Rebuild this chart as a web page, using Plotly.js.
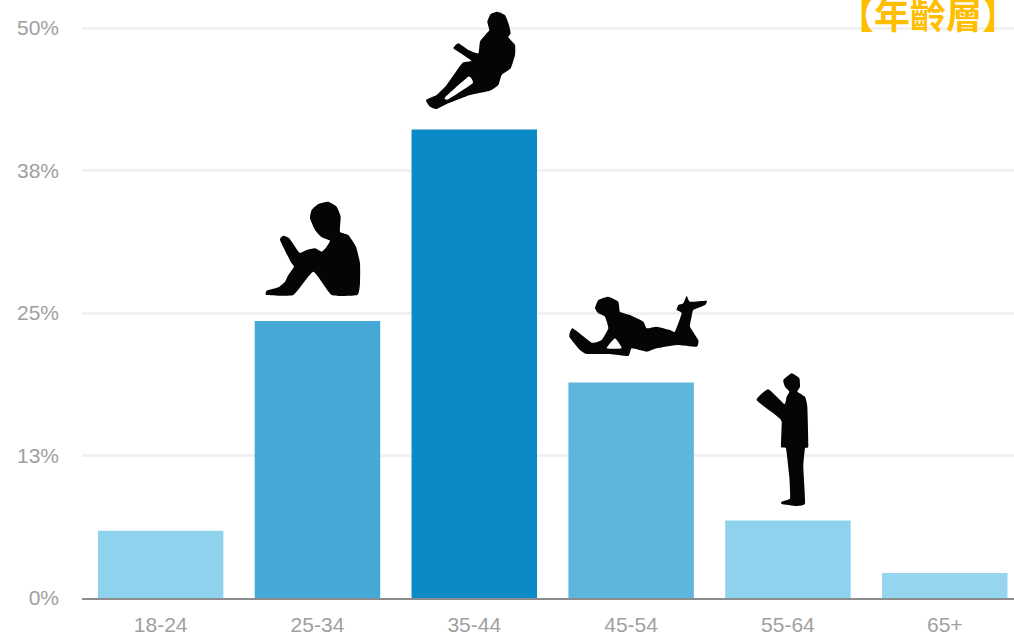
<!DOCTYPE html>
<html>
<head>
<meta charset="utf-8">
<script src="https://cdn.plot.ly/plotly-3.0.1.min.js"></script>
<style>html,body{margin:0;padding:0;background:#fff;overflow:hidden}#chart{width:1014px;height:636px}</style>
</head>
<body>
<div id="chart"></div>
<script>
const ageGroups = ['18-24','25-34','35-44','45-54','55-64','65+'];
const shares = [5.9,24.3,41.1,18.9,6.8,2.2];
const barColors = ['#8FD2EE','#45A9D8','#0A8AC6','#5EB5DE','#8FD2EE','#95D5F0'];
const yTickValues = [0,12.5,25,37.5,50];
const yTickLabels = ['0%','13%','25%','38%','50%'];
const chartTitle = '【年齡層】';

const W = 1014, H = 636, L = 82, T = 0, B = 38;
const plotW = W - L, plotH = H - T - B;
const px = x => (x - L) / plotW;
const py = y => (H - B - y) / plotH;

// decorative silhouettes traced in zoom-crop coordinates (origin ox,oy at 3x), lightly rounded
function sil(ox, oy, rings, k) {
  return rings.map(r => {
    const pts = r.map(p => [px(ox + p[0] / 3), py(oy + p[1] / 3)]);
    const n = pts.length, f = v => v.toFixed(5);
    let d = 'M' + f(pts[0][0]) + ',' + f(pts[0][1]);
    for (let i = 0; i < n; i++) {
      const a = pts[(i - 1 + n) % n], b = pts[i], c = pts[(i + 1) % n], e = pts[(i + 2) % n];
      d += ' C' + f(b[0] + (c[0] - a[0]) * k) + ',' + f(b[1] + (c[1] - a[1]) * k) + ' ' +
           f(c[0] - (e[0] - b[0]) * k) + ',' + f(c[1] - (e[1] - b[1]) * k) + ' ' + f(c[0]) + ',' + f(c[1]);
    }
    return d + ' Z';
  }).join(' ');
}
const womanReclining = [[[742,35],[765,45],[777,75],[782,100],[775,112],[795,135],[795,165],[782,205],[755,225],[745,255],[720,272],[660,285],[590,312],[560,327],[540,320],[528,300],[560,285],[590,255],[625,205],[640,187],[665,183],[640,165],[610,145],[625,130],[655,150],[685,160],[690,125],[710,100],[718,90],[712,65],[722,42]],
  [[655,230],[585,292],[595,298],[668,250]]];
const boySitting = [[[50,885],[50,872],[85,862],[105,845],[115,825],[132,800],[122,785],[90,720],[100,707],[118,715],[148,758],[170,750],[195,745],[215,755],[230,740],[240,722],[215,712],[195,690],[180,655],[185,630],[205,612],[235,605],[260,620],[272,650],[270,695],[295,705],[318,740],[330,790],[330,850],[322,885],[245,885],[190,815],[130,885]]];
const personLying = [[[175,50],[205,65],[210,95],[240,105],[280,125],[290,145],[320,140],[360,150],[375,155],[395,100],[380,90],[385,75],[400,70],[410,48],[420,65],[470,62],[465,75],[430,90],[425,110],[420,140],[445,180],[440,200],[380,195],[320,205],[290,215],[245,205],[235,228],[180,222],[110,222],[90,210],[58,170],[68,145],[125,188],[155,180],[175,145],[165,110],[145,100],[135,85],[145,60]],
  [[195,175],[170,205],[215,205]]];
const manStanding = [[[725,280],[748,295],[750,320],[742,335],[765,350],[772,380],[775,498],[765,505],[760,560],[765,670],[740,678],[695,672],[695,665],[720,655],[718,590],[708,505],[693,500],[695,425],[680,408],[620,360],[655,328],[703,372],[710,350],[718,335],[705,320],[700,300]]];

const silhouette = d => ({type:'path', xref:'paper', yref:'paper', layer:'above', path:d, fillcolor:'#060404', line:{width:0}});
const patch = (x0,x1,y0,y1) => ({type:'rect', xref:'paper', yref:'paper', layer:'below',
  x0:px(x0), x1:px(x1), y0:py(y1), y1:py(y0), fillcolor:'#ffffff', line:{width:0}});

Plotly.newPlot('chart', [{
  type:'bar', x:ageGroups, y:shares, width:0.8,
  marker:{color:barColors, line:{width:0}}, hoverinfo:'x+y'
}], {
  width:W, height:H, margin:{l:L, r:0, t:T, b:B, pad:0},
  paper_bgcolor:'#fff', plot_bgcolor:'#fff', showlegend:false,
  font:{family:'"Liberation Sans", Arial, sans-serif', color:'#a0a0a0', size:21},
  title:{text:chartTitle, x:928/W, xanchor:'center', y:1-16/H, yanchor:'middle', yref:'container',
    font:{family:'"Noto Sans CJK TC", sans-serif', size:36, color:'#FFBE00', weight:700}},
  bargap:0.2,
  xaxis:{type:'category', range:[-0.5015,5.4415], showline:true, linecolor:'#8c8c8c', linewidth:2,
    showgrid:false, zeroline:false, ticks:'', ticklabelstandoff:7, tickfont:{size:21,color:'#a0a0a0'}, fixedrange:true, automargin:false},
  yaxis:{range:[0,52.456], tickmode:'array', tickvals:yTickValues, ticktext:yTickLabels,
    showgrid:true, gridcolor:'#f1f1f1', gridwidth:3, zeroline:false, showline:false,
    ticks:'', ticklabelstandoff:22, tickfont:{size:21,color:'#a0a0a0'}, fixedrange:true, automargin:false},
  shapes:[
    patch(406,534,0,115), patch(558,722,280,382), patch(733,848,370,520),
    silhouette(sil(250,0,womanReclining,0.07)), silhouette(sil(250,0,boySitting,0.07)),
    silhouette(sil(550,280,personLying,0.07)), silhouette(sil(550,280,manStanding,0.07))
  ]
}, {displayModeBar:false, staticPlot:true});
</script>
</body>
</html>
